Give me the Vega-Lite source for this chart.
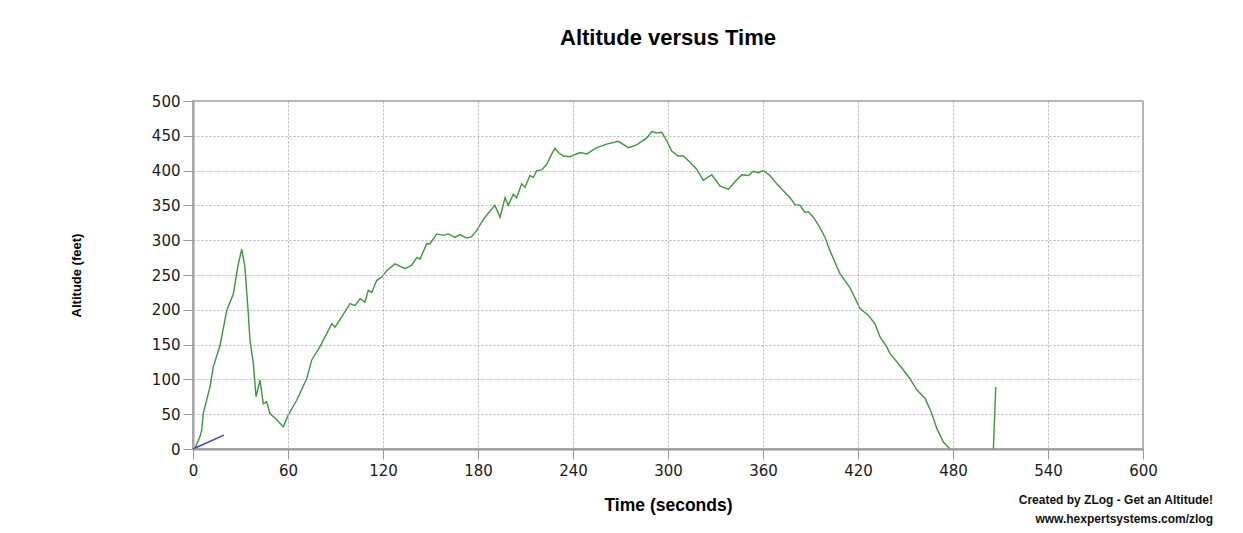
{
  "$schema": "https://vega.github.io/schema/vega-lite/v6.json",
  "width": 950,
  "height": 348,
  "autosize": "none",
  "padding": {"left": 193, "top": 101, "right": 100, "bottom": 84},
  "background": "white",
  "title": {
    "text": "Altitude versus Time",
    "font": "Liberation Sans",
    "fontSize": 22,
    "fontWeight": "bold",
    "color": "#000000",
    "anchor": "middle",
    "offset": 44
  },
  "config": {
    "view": {"stroke": "#a0a0a0", "strokeWidth": 1.5},
    "axis": {
      "domainColor": "#999999",
      "domainWidth": 2,
      "tickColor": "#999999",
      "tickSize": 10,
      "gridColor": "#b4b4b4",
      "gridDash": [2, 2],
      "gridWidth": 1,
      "labelFont": "DejaVu Sans",
      "labelFontSize": 15,
      "labelColor": "#1a1a1a",
      "labelFlush": false,
      "titleColor": "#000000"
    }
  },
  "datasets": {
    "flight": [
      {"series": "altitude", "seg": "a", "t": 1.1, "alt": 0}, {"series": "altitude", "seg": "a", "t": 4.4, "alt": 18}, {"series": "altitude", "seg": "a", "t": 5.5, "alt": 27}, {"series": "altitude", "seg": "a", "t": 6.5, "alt": 51}, {"series": "altitude", "seg": "a", "t": 7.6, "alt": 61}, {"series": "altitude", "seg": "a", "t": 10.7, "alt": 89}, {"series": "altitude", "seg": "a", "t": 12.8, "alt": 118}, {"series": "altitude", "seg": "a", "t": 17.1, "alt": 149}, {"series": "altitude", "seg": "a", "t": 21.3, "alt": 199}, {"series": "altitude", "seg": "a", "t": 25.5, "alt": 223}, {"series": "altitude", "seg": "a", "t": 28.6, "alt": 266}, {"series": "altitude", "seg": "a", "t": 30.8, "alt": 287}, {"series": "altitude", "seg": "a", "t": 32.8, "alt": 261}, {"series": "altitude", "seg": "a", "t": 34.9, "alt": 195}, {"series": "altitude", "seg": "a", "t": 36.0, "alt": 156}, {"series": "altitude", "seg": "a", "t": 38.1, "alt": 123}, {"series": "altitude", "seg": "a", "t": 39.8, "alt": 75}, {"series": "altitude", "seg": "a", "t": 42.3, "alt": 99}, {"series": "altitude", "seg": "a", "t": 44.4, "alt": 65}, {"series": "altitude", "seg": "a", "t": 46.5, "alt": 68}, {"series": "altitude", "seg": "a", "t": 48.6, "alt": 51}, {"series": "altitude", "seg": "a", "t": 52.9, "alt": 42}, {"series": "altitude", "seg": "a", "t": 57.0, "alt": 32}, {"series": "altitude", "seg": "a", "t": 60.2, "alt": 49}, {"series": "altitude", "seg": "a", "t": 65.5, "alt": 70}, {"series": "altitude", "seg": "a", "t": 71.8, "alt": 101}, {"series": "altitude", "seg": "a", "t": 75.0, "alt": 128}, {"series": "altitude", "seg": "a", "t": 80.2, "alt": 147}, {"series": "altitude", "seg": "a", "t": 83.4, "alt": 161}, {"series": "altitude", "seg": "a", "t": 87.6, "alt": 180}, {"series": "altitude", "seg": "a", "t": 89.7, "alt": 175}, {"series": "altitude", "seg": "a", "t": 93.9, "alt": 190}, {"series": "altitude", "seg": "a", "t": 99.2, "alt": 209}, {"series": "altitude", "seg": "a", "t": 102.3, "alt": 206}, {"series": "altitude", "seg": "a", "t": 105.5, "alt": 216}, {"series": "altitude", "seg": "a", "t": 108.6, "alt": 211}, {"series": "altitude", "seg": "a", "t": 110.7, "alt": 228}, {"series": "altitude", "seg": "a", "t": 112.9, "alt": 225}, {"series": "altitude", "seg": "a", "t": 116.0, "alt": 242}, {"series": "altitude", "seg": "a", "t": 119.2, "alt": 247}, {"series": "altitude", "seg": "a", "t": 122.3, "alt": 256}, {"series": "altitude", "seg": "a", "t": 127.6, "alt": 266}, {"series": "altitude", "seg": "a", "t": 133.9, "alt": 259}, {"series": "altitude", "seg": "a", "t": 138.1, "alt": 264}, {"series": "altitude", "seg": "a", "t": 141.3, "alt": 275}, {"series": "altitude", "seg": "a", "t": 143.4, "alt": 273}, {"series": "altitude", "seg": "a", "t": 147.6, "alt": 295}, {"series": "altitude", "seg": "a", "t": 149.7, "alt": 295}, {"series": "altitude", "seg": "a", "t": 153.9, "alt": 309}, {"series": "altitude", "seg": "a", "t": 158.1, "alt": 307}, {"series": "altitude", "seg": "a", "t": 161.3, "alt": 309}, {"series": "altitude", "seg": "a", "t": 165.5, "alt": 304}, {"series": "altitude", "seg": "a", "t": 168.6, "alt": 308}, {"series": "altitude", "seg": "a", "t": 172.9, "alt": 303}, {"series": "altitude", "seg": "a", "t": 176.0, "alt": 305}, {"series": "altitude", "seg": "a", "t": 179.2, "alt": 314}, {"series": "altitude", "seg": "a", "t": 183.4, "alt": 330}, {"series": "altitude", "seg": "a", "t": 187.6, "alt": 342}, {"series": "altitude", "seg": "a", "t": 190.7, "alt": 350}, {"series": "altitude", "seg": "a", "t": 193.9, "alt": 333}, {"series": "altitude", "seg": "a", "t": 197.1, "alt": 361}, {"series": "altitude", "seg": "a", "t": 199.1, "alt": 350}, {"series": "altitude", "seg": "a", "t": 202.3, "alt": 366}, {"series": "altitude", "seg": "a", "t": 204.4, "alt": 361}, {"series": "altitude", "seg": "a", "t": 207.6, "alt": 381}, {"series": "altitude", "seg": "a", "t": 209.7, "alt": 376}, {"series": "altitude", "seg": "a", "t": 212.8, "alt": 393}, {"series": "altitude", "seg": "a", "t": 214.9, "alt": 390}, {"series": "altitude", "seg": "a", "t": 217.1, "alt": 400}, {"series": "altitude", "seg": "a", "t": 220.2, "alt": 401}, {"series": "altitude", "seg": "a", "t": 223.4, "alt": 409}, {"series": "altitude", "seg": "a", "t": 226.6, "alt": 424}, {"series": "altitude", "seg": "a", "t": 228.6, "alt": 432}, {"series": "altitude", "seg": "a", "t": 230.7, "alt": 426}, {"series": "altitude", "seg": "a", "t": 233.9, "alt": 421}, {"series": "altitude", "seg": "a", "t": 238.1, "alt": 420}, {"series": "altitude", "seg": "a", "t": 244.4, "alt": 426}, {"series": "altitude", "seg": "a", "t": 248.7, "alt": 424}, {"series": "altitude", "seg": "a", "t": 255.0, "alt": 433}, {"series": "altitude", "seg": "a", "t": 261.3, "alt": 438}, {"series": "altitude", "seg": "a", "t": 268.6, "alt": 442}, {"series": "altitude", "seg": "a", "t": 275.0, "alt": 433}, {"series": "altitude", "seg": "a", "t": 280.2, "alt": 437}, {"series": "altitude", "seg": "a", "t": 286.6, "alt": 447}, {"series": "altitude", "seg": "a", "t": 289.7, "alt": 456}, {"series": "altitude", "seg": "a", "t": 292.9, "alt": 454}, {"series": "altitude", "seg": "a", "t": 296.0, "alt": 455}, {"series": "altitude", "seg": "a", "t": 299.2, "alt": 443}, {"series": "altitude", "seg": "a", "t": 302.3, "alt": 428}, {"series": "altitude", "seg": "a", "t": 306.5, "alt": 421}, {"series": "altitude", "seg": "a", "t": 309.7, "alt": 421}, {"series": "altitude", "seg": "a", "t": 313.9, "alt": 412}, {"series": "altitude", "seg": "a", "t": 318.1, "alt": 402}, {"series": "altitude", "seg": "a", "t": 322.3, "alt": 386}, {"series": "altitude", "seg": "a", "t": 327.6, "alt": 394}, {"series": "altitude", "seg": "a", "t": 332.8, "alt": 378}, {"series": "altitude", "seg": "a", "t": 338.1, "alt": 373}, {"series": "altitude", "seg": "a", "t": 342.3, "alt": 384}, {"series": "altitude", "seg": "a", "t": 346.6, "alt": 394}, {"series": "altitude", "seg": "a", "t": 350.8, "alt": 393}, {"series": "altitude", "seg": "a", "t": 353.9, "alt": 399}, {"series": "altitude", "seg": "a", "t": 357.0, "alt": 397}, {"series": "altitude", "seg": "a", "t": 360.2, "alt": 400}, {"series": "altitude", "seg": "a", "t": 364.4, "alt": 393}, {"series": "altitude", "seg": "a", "t": 368.7, "alt": 381}, {"series": "altitude", "seg": "a", "t": 372.8, "alt": 371}, {"series": "altitude", "seg": "a", "t": 377.1, "alt": 361}, {"series": "altitude", "seg": "a", "t": 380.2, "alt": 351}, {"series": "altitude", "seg": "a", "t": 383.4, "alt": 350}, {"series": "altitude", "seg": "a", "t": 386.5, "alt": 340}, {"series": "altitude", "seg": "a", "t": 388.6, "alt": 341}, {"series": "altitude", "seg": "a", "t": 391.8, "alt": 333}, {"series": "altitude", "seg": "a", "t": 396.0, "alt": 318}, {"series": "altitude", "seg": "a", "t": 399.2, "alt": 304}, {"series": "altitude", "seg": "a", "t": 402.3, "alt": 285}, {"series": "altitude", "seg": "a", "t": 405.5, "alt": 268}, {"series": "altitude", "seg": "a", "t": 408.6, "alt": 252}, {"series": "altitude", "seg": "a", "t": 414.9, "alt": 232}, {"series": "altitude", "seg": "a", "t": 421.2, "alt": 202}, {"series": "altitude", "seg": "a", "t": 426.5, "alt": 192}, {"series": "altitude", "seg": "a", "t": 430.7, "alt": 180}, {"series": "altitude", "seg": "a", "t": 433.9, "alt": 161}, {"series": "altitude", "seg": "a", "t": 438.1, "alt": 147}, {"series": "altitude", "seg": "a", "t": 440.2, "alt": 137}, {"series": "altitude", "seg": "a", "t": 446.5, "alt": 120}, {"series": "altitude", "seg": "a", "t": 452.8, "alt": 101}, {"series": "altitude", "seg": "a", "t": 457.1, "alt": 85}, {"series": "altitude", "seg": "a", "t": 462.3, "alt": 73}, {"series": "altitude", "seg": "a", "t": 466.6, "alt": 51}, {"series": "altitude", "seg": "a", "t": 469.7, "alt": 30}, {"series": "altitude", "seg": "a", "t": 473.9, "alt": 10}, {"series": "altitude", "seg": "a", "t": 478.1, "alt": 0},
      {"series": "altitude", "seg": "b", "t": 505.5, "alt": 0}, {"series": "altitude", "seg": "b", "t": 507.0, "alt": 89},
      {"series": "rate", "seg": "c", "t": 0, "alt": 0}, {"series": "rate", "seg": "c", "t": 19.5, "alt": 20}
    ],
    "credit": [
      {"line": "Created by ZLog - Get an Altitude!", "row": 0},
      {"line": "www.hexpertsystems.com/zlog", "row": 1}
    ]
  },
  "layer": [
    {
      "data": {"name": "flight"},
      "mark": {"type": "line", "strokeWidth": 1.4, "interpolate": "linear"},
      "encoding": {
        "x": {
          "field": "t", "type": "quantitative",
          "scale": {"domain": [0, 600], "nice": false},
          "axis": {
            "values": [0, 60, 120, 180, 240, 300, 360, 420, 480, 540, 600],
            "title": "Time (seconds)",
            "titleFont": "Liberation Sans",
            "titleFontSize": 17.5,
            "titleFontWeight": "bold",
            "titlePadding": 18,
            "labelPadding": 4,
            "zindex": 1
          }
        },
        "y": {
          "field": "alt", "type": "quantitative",
          "scale": {"domain": [0, 500], "nice": false},
          "axis": {
            "values": [0, 50, 100, 150, 200, 250, 300, 350, 400, 450, 500],
            "title": "Altitude (feet)",
            "titleFont": "Liberation Sans",
            "titleFontSize": 13,
            "titleFontWeight": "bold",
            "titlePadding": 68,
            "labelPadding": 3
          }
        },
        "color": {
          "field": "series", "type": "nominal",
          "scale": {"domain": ["altitude", "rate"], "range": ["#3a9a3a", "#3f3fb8"]},
          "legend": null
        },
        "detail": {"field": "seg"}
      }
    },
    {
      "data": {"name": "credit"},
      "mark": {
        "type": "text",
        "align": "right",
        "baseline": "middle",
        "font": "Liberation Sans",
        "fontSize": 12,
        "fontWeight": "bold",
        "color": "#111111",
        "x": {"expr": "width + 70"},
        "y": {"expr": "height + 51"}
      },
      "encoding": {
        "text": {"field": "line"},
        "yOffset": {"field": "row", "type": "quantitative", "scale": {"domain": [0, 1], "range": [0, 19]}}
      }
    }
  ]
}
